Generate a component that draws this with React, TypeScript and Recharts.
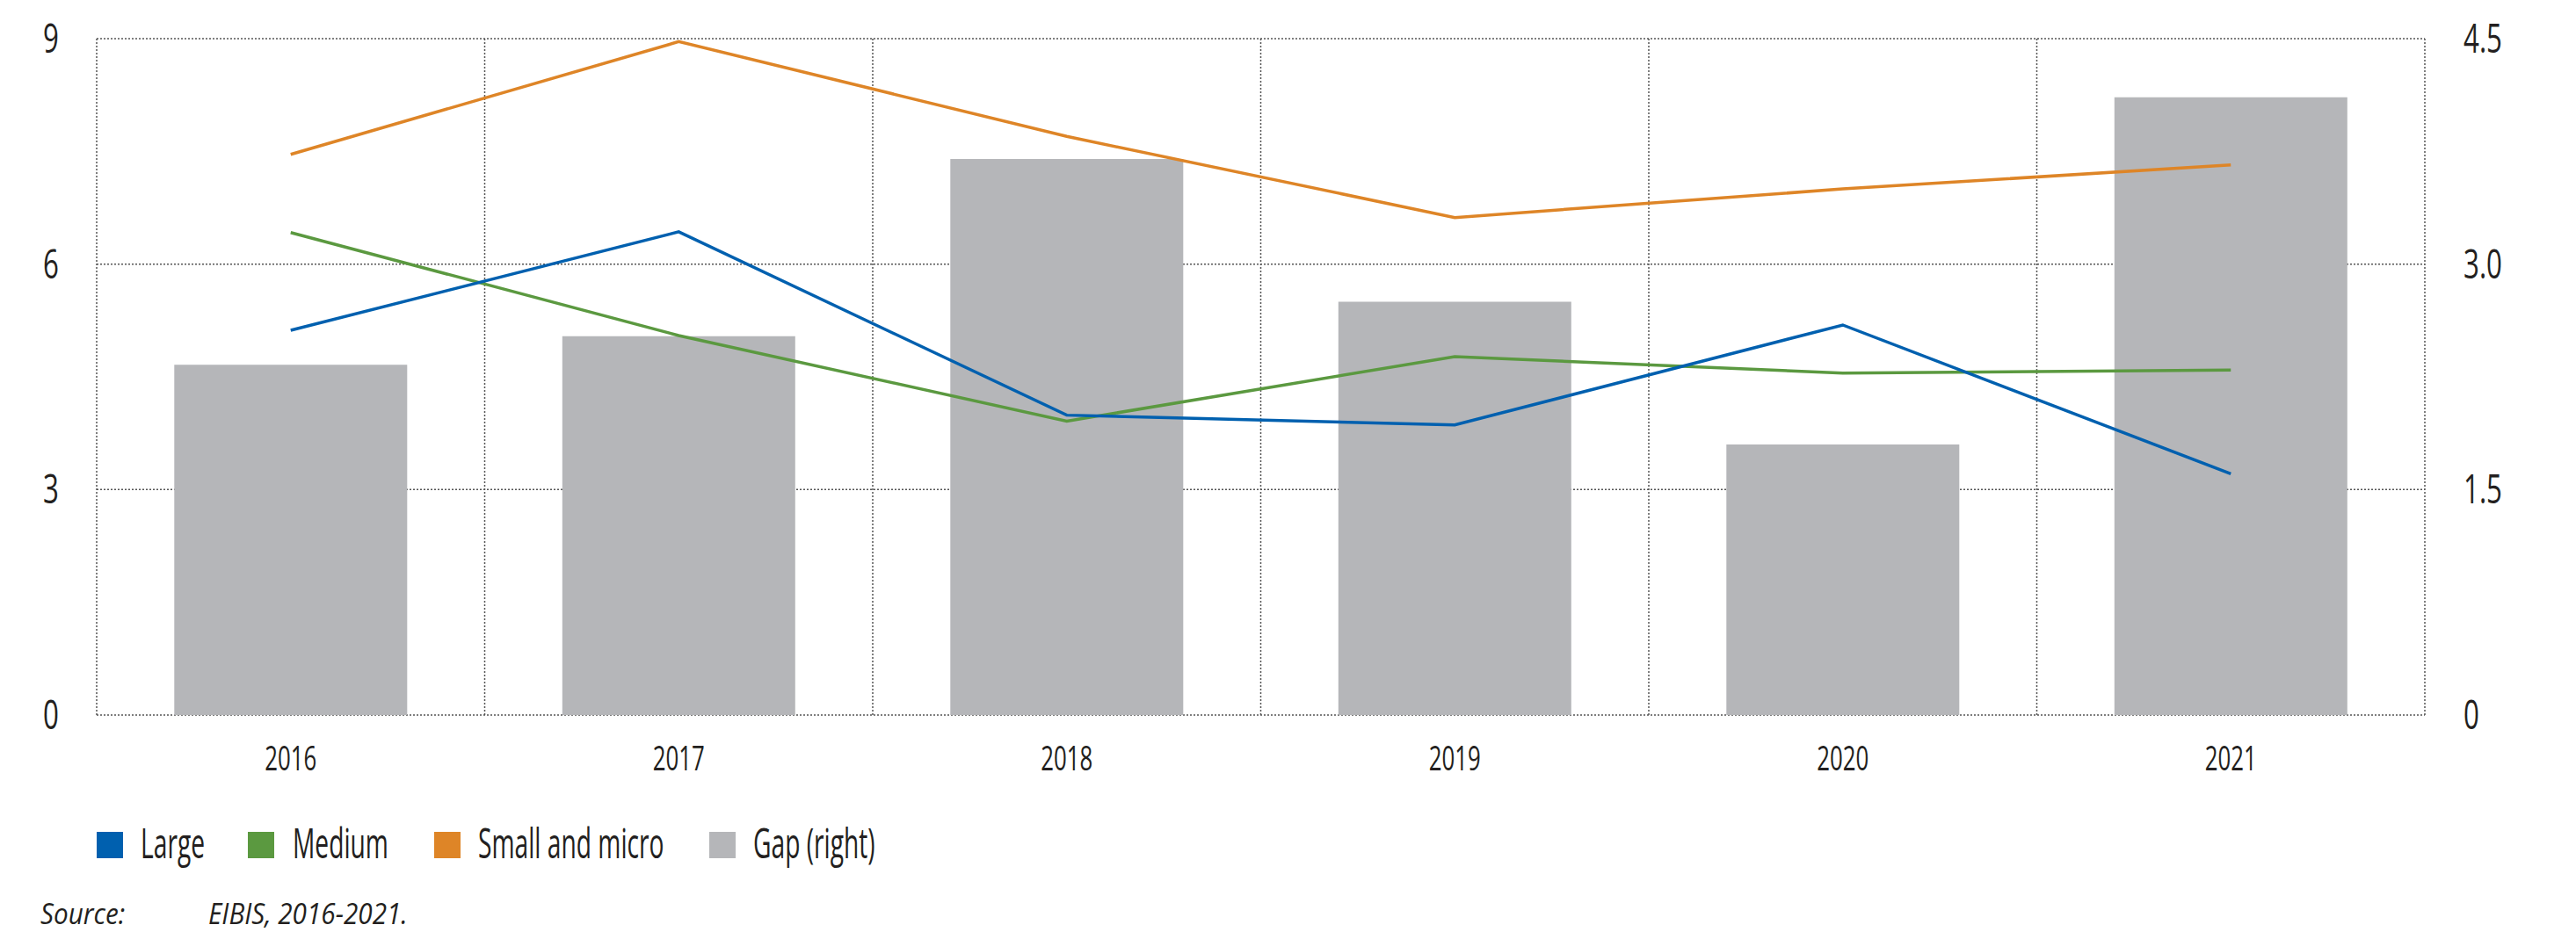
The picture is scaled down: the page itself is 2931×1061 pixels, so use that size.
import React from "react";
import {
  ComposedChart,
  Bar,
  Line,
  XAxis,
  YAxis,
  CartesianGrid,
} from "recharts";

const years = ["2016", "2017", "2018", "2019", "2020", "2021"];
const large = [5.12, 6.43, 3.99, 3.86, 5.19, 3.21];
const medium = [6.42, 5.05, 3.91, 4.77, 4.55, 4.59];
const smallMicro = [7.46, 8.96, 7.7, 6.62, 7.0, 7.32];
const gap = [2.33, 2.52, 3.7, 2.75, 1.8, 4.11];

const leftTicks = [0, 3, 6, 9];
const rightTicks = [0, 1.5, 3, 4.5];

const seriesNames = ["Large", "Medium", "Small and micro", "Gap (right)"];
const seriesColors = ["#0060AF", "#5B9940", "#DE8527", "#B5B6B9"];

const data = years.map((year, i) => ({
  year,
  large: large[i],
  medium: medium[i],
  small: smallMicro[i],
  gap: gap[i],
}));

const FONT = "'Open Sans', 'Liberation Sans', sans-serif";
const INK = "#231f20";

const LeftTick = (props: any) => {
  const { x, y, payload } = props;
  return (
    <g transform={`translate(${x},${y})`}>
      <text transform="scale(0.68,1)" textAnchor="end" y={16} fontSize={46} fill={INK} fontFamily={FONT}>
        {payload.value}
      </text>
    </g>
  );
};

const RightTick = (props: any) => {
  const { x, y, payload } = props;
  const v = payload.value === 0 ? "0" : Number(payload.value).toFixed(1);
  return (
    <g transform={`translate(${x},${y})`}>
      <text transform="scale(0.68,1)" textAnchor="start" y={16} fontSize={46} fill={INK} fontFamily={FONT}>
        {v}
      </text>
    </g>
  );
};

const YearTick = (props: any) => {
  const { x, y, payload } = props;
  return (
    <g transform={`translate(${x},${y})`}>
      <text transform="scale(0.68,1)" textAnchor="middle" y={63} fontSize={38} fill={INK} fontFamily={FONT}>
        {payload.value}
      </text>
    </g>
  );
};

// x offsets of legend items (square start, text start)
const legendX = [
  [102, 152],
  [274, 325],
  [486, 536],
  [799, 849],
];

const App: React.FC = () => {
  return (
    <div style={{ width: 2915, fontFamily: FONT }}>
      <ComposedChart
        width={2915}
        height={892}
        data={data}
        margin={{ top: 36, right: 0, left: 0, bottom: 0 }}
        barCategoryGap="20%"
      >
        <CartesianGrid
          stroke="#555"
          strokeWidth={1.5}
          strokeDasharray="2 2"
          verticalCoordinatesGenerator={({ offset }: any) =>
            Array.from({ length: years.length + 1 }, (_, i) => offset.left + (offset.width * i) / years.length)
          }
        />
        <XAxis
          dataKey="year"
          axisLine={false}
          tickLine={false}
          tickSize={0}
          tickMargin={0}
          height={86}
          tick={<YearTick />}
          interval={0}
        />
        <YAxis
          domain={[0, 9]}
          ticks={leftTicks}
          axisLine={false}
          tickLine={false}
          tickSize={0}
          tickMargin={43}
          width={102}
          tick={<LeftTick />}
        />
        <YAxis
          yAxisId="right"
          orientation="right"
          domain={[0, 4.5]}
          ticks={rightTicks}
          axisLine={false}
          tickLine={false}
          tickSize={0}
          tickMargin={44}
          width={164}
          tick={<RightTick />}
        />
        <Bar dataKey="gap" yAxisId="right" fill={seriesColors[3]} isAnimationActive={false} />
        <Line type="linear" dataKey="small" stroke={seriesColors[2]} strokeWidth={3.5} dot={false} isAnimationActive={false} />
        <Line type="linear" dataKey="medium" stroke={seriesColors[1]} strokeWidth={3.5} dot={false} isAnimationActive={false} />
        <Line type="linear" dataKey="large" stroke={seriesColors[0]} strokeWidth={3.5} dot={false} isAnimationActive={false} />
      </ComposedChart>
      <svg width={2915} height={160} style={{ display: "block" }}>
        {seriesNames.map((name, i) => (
          <g key={name}>
            <rect x={legendX[i][0]} y={47} width={30} height={30} fill={seriesColors[i]} />
            <g transform={`translate(${legendX[i][1]},77)`}>
              <text transform="scale(0.6,1)" fontSize={47} fill={INK} fontFamily={FONT}>
                {name}
              </text>
            </g>
          </g>
        ))}
        <g transform="translate(38,152)">
          <text transform="scale(0.9,1)" fontSize={33} fontStyle="italic" fill={INK} fontFamily={FONT}>
            Source:
          </text>
        </g>
        <g transform="translate(229,152)">
          <text transform="scale(0.9,1)" fontSize={33} fontStyle="italic" fill={INK} fontFamily={FONT}>
            EIBIS, 2016-2021.
          </text>
        </g>
      </svg>
    </div>
  );
};

export default App;
